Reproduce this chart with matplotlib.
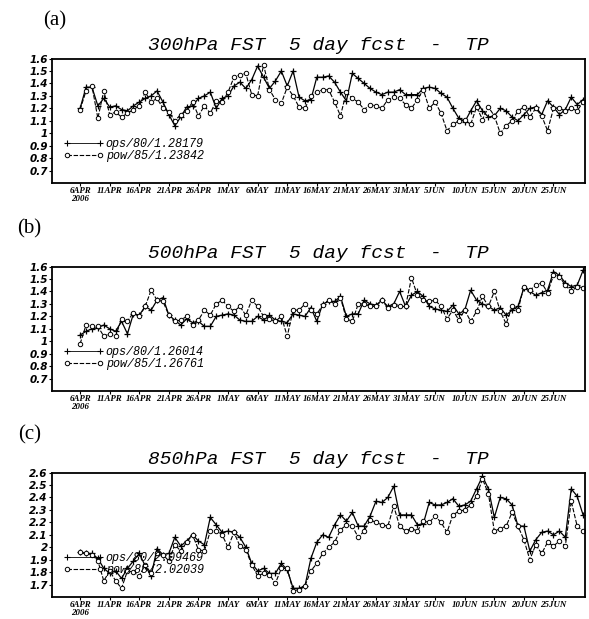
import pandas as pd
import matplotlib
matplotlib.use("Agg")
import matplotlib.pyplot as plt
import matplotlib.transforms as mtransforms
from matplotlib.lines import Line2D

# daily values, 6 Apr - 30 Jun 2006
days = pd.date_range("2006-04-06", periods=86, freq="D")

ops_300 = [1.20, 1.37, 1.37, 1.22, 1.28, 1.21, 1.22, 1.19, 1.18, 1.22,
           1.25, 1.28, 1.30, 1.34, 1.25, 1.15, 1.06, 1.13, 1.21, 1.22,
           1.28, 1.30, 1.33, 1.20, 1.28, 1.30, 1.38, 1.41, 1.36, 1.43,
           1.54, 1.45, 1.36, 1.42, 1.50, 1.38, 1.50, 1.29, 1.26, 1.27,
           1.45, 1.45, 1.46, 1.41, 1.33, 1.26, 1.48, 1.44, 1.40, 1.36,
           1.33, 1.31, 1.33, 1.33, 1.35, 1.31, 1.31, 1.31, 1.36, 1.37,
           1.36, 1.32, 1.29, 1.20, 1.12, 1.09, 1.18, 1.26, 1.18, 1.13,
           1.14, 1.20, 1.18, 1.13, 1.10, 1.15, 1.20, 1.21, 1.15, 1.26,
           1.21, 1.15, 1.19, 1.29, 1.23, 1.27]
pow_300 = [1.19, 1.34, 1.38, 1.12, 1.34, 1.15, 1.17, 1.13, 1.16, 1.19,
           1.22, 1.33, 1.25, 1.28, 1.20, 1.17, 1.10, 1.15, 1.18, 1.25,
           1.14, 1.22, 1.16, 1.26, 1.25, 1.33, 1.45, 1.47, 1.48, 1.31,
           1.30, 1.55, 1.35, 1.27, 1.24, 1.37, 1.30, 1.21, 1.20, 1.30,
           1.33, 1.35, 1.35, 1.25, 1.14, 1.33, 1.28, 1.25, 1.19, 1.23,
           1.22, 1.20, 1.27, 1.29, 1.28, 1.23, 1.20, 1.27, 1.35, 1.20,
           1.25, 1.16, 1.02, 1.07, 1.10, 1.11, 1.07, 1.21, 1.11, 1.21,
           1.14, 1.00, 1.06, 1.10, 1.18, 1.21, 1.13, 1.20, 1.14, 1.02,
           1.20, 1.20, 1.18, 1.20, 1.18, 1.25]

ops_500 = [1.05, 1.08, 1.10, 1.11, 1.13, 1.10, 1.08, 1.16, 1.06, 1.22,
           1.21, 1.28, 1.25, 1.33, 1.35, 1.21, 1.17, 1.13, 1.18, 1.15,
           1.16, 1.12, 1.12, 1.20, 1.21, 1.22, 1.21, 1.17, 1.16, 1.16,
           1.20, 1.17, 1.21, 1.17, 1.16, 1.15, 1.22, 1.21, 1.20, 1.27,
           1.16, 1.30, 1.32, 1.32, 1.36, 1.20, 1.22, 1.22, 1.33, 1.30,
           1.29, 1.33, 1.28, 1.30, 1.40, 1.28, 1.37, 1.40, 1.36, 1.28,
           1.26, 1.25, 1.24, 1.29, 1.22, 1.25, 1.41, 1.33, 1.30, 1.28,
           1.25, 1.27, 1.21, 1.25, 1.28, 1.43, 1.40, 1.37, 1.39, 1.41,
           1.56, 1.53, 1.47, 1.44, 1.45, 1.57]
pow_500 = [0.98, 1.13, 1.12, 1.12, 1.04, 1.06, 1.04, 1.18, 1.16, 1.23,
           1.20, 1.28, 1.41, 1.33, 1.32, 1.21, 1.16, 1.17, 1.20, 1.13,
           1.17, 1.25, 1.21, 1.30, 1.33, 1.28, 1.24, 1.28, 1.21, 1.33,
           1.28, 1.20, 1.18, 1.16, 1.20, 1.04, 1.25, 1.25, 1.30, 1.25,
           1.22, 1.29, 1.33, 1.30, 1.35, 1.18, 1.16, 1.30, 1.30, 1.28,
           1.28, 1.33, 1.27, 1.29, 1.28, 1.28, 1.51, 1.37, 1.33, 1.32,
           1.33, 1.28, 1.18, 1.25, 1.17, 1.25, 1.16, 1.24, 1.36, 1.28,
           1.40, 1.24, 1.14, 1.28, 1.25, 1.44, 1.41, 1.45, 1.47, 1.39,
           1.53, 1.52, 1.45, 1.40, 1.44, 1.43]

ops_850 = [1.96, 1.95, 1.95, 1.91, 1.83, 1.79, 1.81, 1.75, 1.83, 1.89,
           1.95, 1.85, 1.77, 1.99, 1.94, 1.95, 2.08, 2.01, 2.05, 2.10,
           2.05, 2.02, 2.24, 2.18, 2.12, 2.13, 2.12, 2.08, 2.00, 1.87,
           1.81, 1.83, 1.79, 1.79, 1.87, 1.82, 1.67, 1.67, 1.69, 1.91,
           2.04, 2.10, 2.08, 2.18, 2.26, 2.21, 2.28, 2.17, 2.17, 2.25,
           2.37, 2.36, 2.40, 2.49, 2.26, 2.26, 2.26, 2.18, 2.19, 2.36,
           2.34, 2.34, 2.36, 2.39, 2.33, 2.34, 2.37, 2.47, 2.57, 2.47,
           2.24, 2.40, 2.39, 2.34, 2.17, 2.17, 1.97, 2.06, 2.12, 2.13,
           2.10, 2.13, 2.08, 2.47, 2.41, 2.26]
pow_850 = [1.96, 1.95, 1.94, 1.89, 1.73, 1.81, 1.73, 1.67, 1.81, 1.80,
           1.77, 1.86, 1.79, 1.95, 1.94, 1.89, 2.02, 1.97, 2.04, 2.10,
           1.98, 1.97, 2.13, 2.13, 2.10, 2.00, 2.12, 2.01, 1.98, 1.86,
           1.77, 1.79, 1.78, 1.71, 1.83, 1.83, 1.65, 1.66, 1.69, 1.81,
           1.87, 1.95, 2.00, 2.04, 2.14, 2.18, 2.17, 2.08, 2.13, 2.22,
           2.20, 2.18, 2.17, 2.33, 2.17, 2.13, 2.15, 2.13, 2.21, 2.20,
           2.25, 2.20, 2.12, 2.26, 2.29, 2.30, 2.34, 2.41, 2.55, 2.43,
           2.13, 2.15, 2.17, 2.28, 2.17, 2.06, 1.90, 2.02, 1.95, 2.04,
           2.01, 2.05, 2.01, 2.37, 2.17, 2.13]

tick_dates = pd.date_range("2006-04-06", "2006-06-25", freq="5D")
tick_labels = ["6APR", "11APR", "16APR", "21APR", "26APR", "1MAY", "6MAY",
               "11MAY", "16MAY", "21MAY", "26MAY", "31MAY", "5JUN", "10JUN",
               "15JUN", "20JUN", "25JUN"]

panels = [
    ("(a)", "300hPa", ops_300, pow_300, "ops/80/1.28179", "pow/85/1.23842",
     0.6, ["0.7", "0.8", "0.9", "1", "1.1", "1.2", "1.3", "1.4", "1.5", "1.6"]),
    ("(b)", "500hPa", ops_500, pow_500, "ops/80/1.26014", "pow/85/1.26761",
     0.6, ["0.7", "0.8", "0.9", "1", "1.1", "1.2", "1.3", "1.4", "1.5", "1.6"]),
    ("(c)", "850hPa", ops_850, pow_850, "ops/80/2.09469", "pow/85/2.02039",
     1.6, ["1.7", "1.8", "1.9", "2", "2.1", "2.2", "2.3", "2.4", "2.5", "2.6"]),
]

fig = plt.figure(figsize=(5.89, 6.19), dpi=100)
bottoms = [0.7044, 0.3683, 0.0355]
tag_x = [-0.017, -0.066, -0.064]
tickfont = dict(family="DejaVu Sans", weight="bold", style="italic")
xfont = dict(family="Liberation Serif", weight="bold", style="italic")

for (tag, lev, ops, pw, lab_o, lab_p, ymin, ylabs), b, tx in zip(panels, bottoms, tag_x):
    ax = fig.add_axes([0.0883, b, 0.905, 0.201])
    ax.plot(days, ops, color="black", lw=0.9, marker="+", ms=4, mew=0.9)
    ax.plot(days, pw, color="black", lw=0.8, ls=(0, (4, 1.5)), marker="o",
            ms=3.2, mfc="white", mew=0.7)
    ax.set_xlim(pd.Timestamp("2006-04-01 06:00"), pd.Timestamp("2006-06-30 08:00"))
    ax.set_ylim(ymin, ymin + 1.0)
    ax.set_yticks([ymin + 0.1 * (i + 1) for i in range(10)])
    ax.set_yticklabels(ylabs, fontsize=7.5, **tickfont)
    ax.set_xticks(tick_dates)
    ax.set_xticklabels(tick_labels, fontsize=6.4, **xfont)
    ax.tick_params(axis="both", direction="out", length=2, width=0.8, pad=1)
    for s in ax.spines.values():
        s.set_linewidth(1.3)
    trans = mtransforms.blended_transform_factory(ax.transData, ax.transAxes)
    ax.text(tick_dates[0], -0.1, "2006", transform=trans, ha="center", va="top",
            fontsize=6.4, **xfont)
    ax.text(0.5, 1.035, lev + " FST  5 day fcst  -  TP", transform=ax.transAxes,
            ha="center", va="bottom", fontsize=14, family="Liberation Mono",
            style="italic")
    ax.text(tx, 1.305, tag, transform=ax.transAxes, ha="left", va="center",
            fontsize=15, family="Liberation Serif")
    handles = [Line2D([], [], color="black", lw=0.6, marker="+", ms=4, mew=0.8),
               Line2D([], [], color="black", lw=0.8, ls=(0, (4, 1.5)), marker="o",
                      ms=3.2, mfc="white", mew=0.7)]
    ax.legend(handles, [lab_o, lab_p], loc="upper left", bbox_to_anchor=(0.022, 0.36),
              frameon=False, numpoints=2, handlelength=3.4, handletextpad=0.15,
              borderpad=0, borderaxespad=0, labelspacing=0.0,
              prop=dict(family="Liberation Mono", style="italic", size=8.5))

fig.savefig("out.png", dpi=100)
